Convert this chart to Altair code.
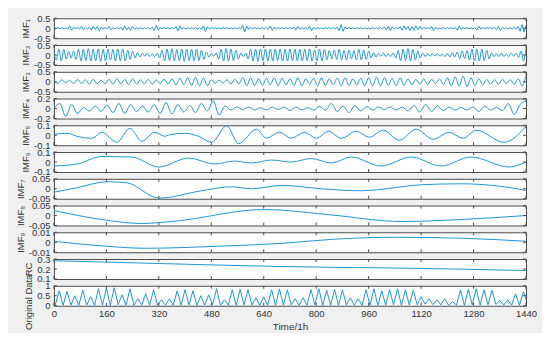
import altair as alt
import pandas as pd

# ---------------- data ----------------
# IMF1: alternating extrema every 6 h
imf1 = [
    0.02, -0.03, 0.03, -0.02, 0.03, -0.04, 0.02, -0.03, 0.12, -0.1, 0.03, -0.02,
    0.03, -0.04, 0.1, -0.08, 0.03, -0.03, 0.04, -0.09, 0.1, -0.06, 0.08, -0.12,
    0.05, -0.03, 0.04, -0.03, 0.1, -0.08, 0.03, -0.03, 0.03, -0.02, 0.04, -0.1,
    0.12, -0.08, 0.05, -0.1, 0.08, -0.04, 0.03, -0.03, 0.02, -0.03, 0.03, -0.02,
    0.03, -0.04, 0.05, -0.12, 0.15, -0.1, 0.04, -0.03, 0.03, -0.02, 0.03, -0.04,
    0.04, -0.03, 0.08, -0.13, 0.12, -0.05, 0.03, -0.03, 0.02, -0.03, 0.04, -0.03,
    0.04, -0.05, 0.03, -0.04, 0.12, -0.15, 0.08, -0.04, 0.03, -0.02, 0.03, -0.02,
    0.02, -0.03, 0.03, -0.02, 0.03, -0.03, 0.02, -0.03, 0.03, -0.04, 0.03, -0.03,
    0.15, -0.18, 0.1, -0.05, 0.03, -0.03, 0.03, -0.02, 0.02, -0.03, 0.04, -0.03,
    0.04, -0.05, 0.12, -0.1, 0.05, -0.03, 0.03, -0.02, 0.03, -0.02, 0.03, -0.03,
    0.04, -0.03, 0.05, -0.08, 0.1, -0.05, 0.03, -0.03, 0.04, -0.06, 0.1, -0.12,
    0.05, -0.03, 0.03, -0.02, 0.02, -0.03, 0.03, -0.02, 0.03, -0.03, 0.04, -0.03,
    0.05, -0.12, 0.18, -0.15, 0.06, -0.03, 0.03, -0.02, 0.02, -0.02, 0.03, -0.03,
    0.03, -0.02, 0.02, -0.03, 0.02, -0.03, 0.03, -0.02, 0.03, -0.04, 0.03, -0.03,
    0.05, -0.08, 0.1, -0.12, 0.08, -0.05, 0.04, -0.03, 0.08, -0.1, 0.12, -0.06,
    0.1, -0.12, 0.08, -0.1, 0.12, -0.08, 0.1, -0.06, 0.04, -0.03, 0.03, -0.04,
    0.1, -0.12, 0.05, -0.03, 0.02, -0.03, 0.03, -0.02, 0.03, -0.02, 0.03, -0.03,
    0.04, -0.1, 0.12, -0.05, 0.03, -0.02, 0.03, -0.02, 0.02, -0.03, 0.03, -0.08,
    0.1, -0.05, 0.03, -0.02, 0.03, -0.02, 0.03, -0.03, 0.04, -0.06, 0.1, -0.12,
    0.05, -0.03, 0.03, -0.02, 0.03, -0.04, 0.04, -0.05, 0.1, -0.15, 0.18, -0.2,
    0.15,
]
imf1_step = 6

# IMF2: alternating extrema every 7.5 h
imf2 = [
    0.15, -0.25, 0.3, -0.3, 0.28, -0.2, 0.18, -0.15,
    0.2, -0.22, 0.28, -0.3, 0.3, -0.28, 0.32, -0.3,
    0.3, -0.28, 0.3, -0.32, 0.28, -0.3, 0.3, -0.25,
    0.28, -0.3, 0.3, -0.28, 0.3, -0.3, 0.25, -0.22,
    0.2, -0.15, 0.12, -0.1, 0.08, -0.06, 0.1, -0.08,
    0.06, -0.08, 0.1, -0.15, 0.25, -0.3, 0.3, -0.28,
    0.32, -0.3, 0.28, -0.3, 0.3, -0.32, 0.3, -0.28,
    0.28, -0.3, 0.3, -0.28, 0.25, -0.22, 0.15, -0.1,
    0.08, -0.06, 0.1, -0.2, 0.28, -0.3, 0.32, -0.3,
    0.3, -0.28, 0.25, -0.2, 0.1, -0.08, 0.1, -0.2,
    0.28, -0.3, 0.3, -0.32, 0.3, -0.28, 0.3, -0.3,
    0.28, -0.3, 0.3, -0.28, 0.3, -0.3, 0.28, -0.3,
    0.3, -0.28, 0.3, -0.3, 0.28, -0.3, 0.3, -0.28,
    0.3, -0.3, 0.25, -0.28, 0.3, -0.3, 0.28, -0.25,
    0.22, -0.2, 0.25, -0.22, 0.28, -0.25, 0.22, -0.25,
    0.25, -0.2, 0.22, -0.25, 0.28, -0.25, 0.25, -0.22,
    0.2, -0.15, 0.12, -0.1, 0.08, -0.06, 0.1, -0.08,
    0.06, -0.08, 0.1, -0.15, 0.22, -0.3, 0.3, -0.28,
    0.32, -0.3, 0.28, -0.25, 0.2, -0.15, 0.1, -0.08,
    0.07, -0.06, 0.08, -0.05, 0.07, -0.06, 0.05, -0.08,
    0.08, -0.1, 0.12, -0.1, 0.15, -0.18, 0.2, -0.18,
    0.22, -0.25, 0.3, -0.3, 0.28, -0.3, 0.3, -0.28,
    0.25, -0.2, 0.12, -0.08, 0.06, -0.08, 0.1, -0.08,
    0.06, -0.08, 0.1, -0.06, 0.08, -0.12, 0.2, -0.3,
    0.35,
]
imf2_step = 7.5

# IMF3: alternating extrema every 12 h
imf3 = [
    0.05, -0.08, 0.1, -0.05, 0.08, -0.1, 0.12, -0.08, 0.1, -0.12, 0.12, -0.1, 0.08, -0.1, 0.12, -0.12, 0.15, -0.1, 0.12, -0.15,
    0.15, -0.12, 0.1, -0.1, 0.12, -0.12, 0.1, -0.08, 0.12, -0.1, 0.15, -0.15, 0.18, -0.15, 0.2, -0.18, 0.22, -0.2, 0.18, -0.2,
    0.1, -0.08, 0.08, -0.06, 0.1, -0.12, 0.12, -0.1, 0.22, -0.2, 0.2, -0.18, 0.15, -0.18, 0.18, -0.15, 0.2, -0.2, 0.18, -0.15,
    0.15, -0.18, 0.2, -0.2, 0.15, -0.12, 0.18, -0.2, 0.2, -0.18, 0.15, -0.15, 0.18, -0.2, 0.2, -0.18, 0.15, -0.15, 0.18, -0.2,
    0.2, -0.2, 0.22, -0.2, 0.2, -0.18, 0.18, -0.2, 0.2, -0.18, 0.15, -0.15, 0.12, -0.12, 0.15, -0.15, 0.12, -0.1, 0.15, -0.15,
    0.2, -0.2, 0.25, -0.22, 0.28, -0.25, 0.2, -0.18, 0.15, -0.15, 0.12, -0.12, 0.1, -0.12, 0.12, -0.1, 0.1, -0.12, 0.15, -0.2,
    0.32,
]
imf3_step = 12

# IMF4: extrema every 18 h
imf4 = [
    0.0, 0.1, -0.16, 0.08, -0.1, 0.02, -0.05, 0.05, -0.06, 0.07,
    -0.08, 0.1, -0.1, 0.08, -0.06, 0.05, -0.07, 0.08, -0.1, 0.12,
    -0.11, 0.08, -0.07, 0.06, -0.08, 0.1, -0.05, 0.15, -0.13, 0.05,
    -0.03, 0.03, -0.02, 0.03, -0.03, 0.02, -0.03, 0.03, -0.02, 0.03,
    -0.04, 0.03, -0.03, 0.02, -0.03, 0.04, -0.03, 0.1, -0.06, 0.05,
    -0.08, 0.06, -0.05, 0.04, -0.03, 0.03, -0.02, 0.03, -0.03, 0.03,
    -0.05, 0.06, -0.07, 0.08, -0.06, 0.05, -0.04, 0.03, -0.03, 0.02,
    -0.03, 0.03, -0.06, 0.05, -0.03, 0.02, -0.04, 0.1, -0.12, 0.08,
    0.15,
]
imf4_step = 18

imf5_t = [0, 40, 70, 116, 146, 192, 232, 268, 307, 338, 353, 399, 441, 481, 527, 563, 618, 648,
          688, 724, 764, 801, 837, 877, 922, 962, 1005, 1053, 1105, 1157, 1205, 1248, 1288, 1373, 1440]
imf5 = [0.01, 0.02, -0.01, -0.03, 0.03, -0.07, 0.07, -0.06, 0.03, -0.01, 0.005, 0.02, -0.01, -0.07,
        0.095, -0.085, 0.06, -0.03, 0.03, -0.03, 0.03, -0.03, 0.04, -0.03, 0.04, -0.02, 0.05, -0.05,
        0.06, -0.04, 0.03, -0.03, 0.05, -0.07, 0.09]

imf6_t = [0, 70, 146, 237, 320, 411, 490, 551, 603, 664, 724, 785, 846, 907, 998, 1090, 1181, 1272, 1388, 1440]
imf6 = [-0.04, -0.02, 0.055, 0.05, -0.05, 0.04, -0.02, 0.01, -0.01, 0.02, 0.0, 0.035, -0.01, 0.05,
        -0.04, 0.05, -0.04, 0.05, -0.05, 0.0]

imf7_t = [0, 70, 161, 222, 320, 450, 542, 603, 694, 816, 938, 1120, 1242, 1364, 1440]
imf7 = [-0.017, 0.005, 0.035, 0.03, -0.047, -0.01, 0.01, 0.0, 0.017, 0.0, -0.01, 0.02, 0.025, 0.012, -0.008]

imf8_t = [0, 146, 268, 359, 642, 846, 1059, 1242, 1440]
imf8 = [0.025, -0.02, -0.04, -0.03, 0.03, 0.003, -0.03, -0.02, 0.0]

imf9_t = [0, 160, 280, 500, 700, 850, 1050, 1250, 1440]
imf9 = [0.001, -0.004, -0.006, -0.004, -0.001, 0.003, 0.005, 0.004, 0.001]

rc_t = [0, 240, 846, 1000, 1440]
rc = [0.283, 0.262, 0.217, 0.212, 0.185]

# Original data: daily low (at 4 h) and daily peak (at 16 h)
orig_low = [0.03, 0.02, 0.04, 0.02, 0.03, 0.02, 0.03, 0.02, 0.05, 0.03,
            0.02, 0.04, 0.03, 0.02, 0.03, 0.02, 0.03, 0.04, 0.02, 0.03,
            0.05, 0.02, 0.03, 0.02, 0.04, 0.03, 0.02, 0.03, 0.02, 0.03,
            0.04, 0.02, 0.03, 0.05, 0.02, 0.03, 0.02, 0.04, 0.03, 0.02,
            0.03, 0.02, 0.03, 0.04, 0.02, 0.03, 0.05, 0.08, 0.06, 0.04,
            0.02, 0.03, 0.02, 0.04, 0.03, 0.05, 0.07, 0.04, 0.03, 0.02]
orig_peak = [0.75, 0.72, 0.5, 0.78, 0.45, 0.85, 0.88, 0.9, 0.55, 0.85,
             0.35, 0.6, 0.8, 0.3, 0.35, 0.75, 0.8, 0.75, 0.5, 0.55,
             0.85, 0.3, 0.8, 0.82, 0.8, 0.4, 0.45, 0.8, 0.85, 0.8,
             0.35, 0.4, 0.8, 0.85, 0.78, 0.82, 0.8, 0.4, 0.35, 0.8,
             0.85, 0.75, 0.8, 0.85, 0.8, 0.78, 0.45, 0.35, 0.3, 0.35,
             0.2, 0.8, 0.82, 0.85, 0.8, 0.78, 0.25, 0.3, 0.6, 0.7]
orig_end = 0.3

x_tick_values = [0, 160, 320, 480, 640, 800, 960, 1120, 1280, 1440]

# ---------------- build tables ----------------
def regular(vals, step):
    return pd.DataFrame({"t": [i * step for i in range(len(vals))], "v": vals})

def explicit(ts, vals):
    return pd.DataFrame({"t": ts, "v": vals})

ot, ov = [], []
for d in range(len(orig_peak)):
    ot += [24 * d + 4, 24 * d + 16]
    ov += [orig_low[d], orig_peak[d]]
ot.append(1440)
ov.append(orig_end)

panels = [
    ("IMF₁", regular(imf1, imf1_step), [-0.5, 0.5], [-0.5, 0, 0.5], "linear"),
    ("IMF₂", regular(imf2, imf2_step), [-0.5, 0.5], [-0.5, 0, 0.5], "monotone"),
    ("IMF₃", regular(imf3, imf3_step), [-0.5, 0.5], [-0.5, 0, 0.5], "monotone"),
    ("IMF₄", regular(imf4, imf4_step), [-0.2, 0.2], [-0.2, 0, 0.2], "monotone"),
    ("IMF₅", explicit(imf5_t, imf5), [-0.1, 0.1], [-0.1, 0, 0.1], "monotone"),
    ("IMF₆", explicit(imf6_t, imf6), [-0.1, 0.1], [-0.1, 0, 0.1], "monotone"),
    ("IMF₇", explicit(imf7_t, imf7), [-0.05, 0.05], [-0.05, 0, 0.05], "monotone"),
    ("IMF₈", explicit(imf8_t, imf8), [-0.05, 0.05], [-0.05, 0, 0.05], "monotone"),
    ("IMF₉", explicit(imf9_t, imf9), [-0.01, 0.01], [-0.01, 0, 0.01], "monotone"),
    ("RC", explicit(rc_t, rc), [0.1, 0.3], [0.1, 0.2, 0.3], "monotone"),
    ("Original Data", explicit(ot, ov), [0, 1], [0, 0.5, 1], "linear"),
]

W, H = 473, 20
BLUE = "#1e96dc"
TICK = "#4a4a4a"
TXT = "#333333"
FONT = "Liberation Sans"

xt_df = pd.DataFrame({"t": x_tick_values})

charts = []
for i, (title, df, dom, ticks, interp) in enumerate(panels):
    last = i == len(panels) - 1
    xscale = alt.Scale(domain=[0, 1440], nice=False, zero=False)
    if last:
        xaxis = alt.Axis(values=x_tick_values, title="Time/1h", ticks=False, domain=False,
                         grid=False, labelFlush=False, labelOverlap=False, labelPadding=3,
                         titlePadding=3, labelExpr="toString(datum.value)", titleFontSize=10)
        xenc = alt.X("t:Q", scale=xscale, axis=xaxis)
    else:
        xenc = alt.X("t:Q", scale=xscale, axis=None)
    ykw = dict(values=ticks, title=title, ticks=False, domain=False, grid=False,
               labelOverlap=False, labelExpr="toString(datum.value)",
               labelPadding=4, titlePadding=3)
    if last:
        ykw["titleY"] = 16
    yenc = alt.Y("v:Q", scale=alt.Scale(domain=dom, nice=False, zero=False), axis=alt.Axis(**ykw))
    yt_df = pd.DataFrame({"v": ticks})

    line = alt.Chart(df).mark_line(color=BLUE, strokeWidth=1, interpolate=interp, clip=True).encode(
        x=xenc, y=yenc)
    top = alt.Chart(xt_df).mark_rule(color=TICK, strokeWidth=1).encode(
        x=xenc, y=alt.value(0), y2=alt.value(3))
    bot = alt.Chart(xt_df).mark_rule(color=TICK, strokeWidth=1).encode(
        x=xenc, y=alt.value(H - 3), y2=alt.value(H))
    left = alt.Chart(yt_df).mark_rule(color=TICK, strokeWidth=1).encode(
        y=yenc, x=alt.value(0), x2=alt.value(3))
    right = alt.Chart(yt_df).mark_rule(color=TICK, strokeWidth=1).encode(
        y=yenc, x=alt.value(W - 3), x2=alt.value(W))
    charts.append(alt.layer(line, top, bot, left, right).properties(width=W, height=H))

chart = (
    alt.vconcat(*charts, spacing=6.8, bounds="flush")
    .properties(background="#f0f0f0", padding={"top": 4, "left": 6, "right": 4, "bottom": 0})
    .configure_view(stroke=TICK, strokeWidth=1, fill="white")
    .configure_axis(labelFont=FONT, titleFont=FONT, labelFontSize=9.5, titleFontSize=9.5,
                    labelColor=TXT, titleColor=TXT, titleFontWeight="normal")
)

chart.save("out.html", embed_options={"renderer": "svg", "actions": False})
